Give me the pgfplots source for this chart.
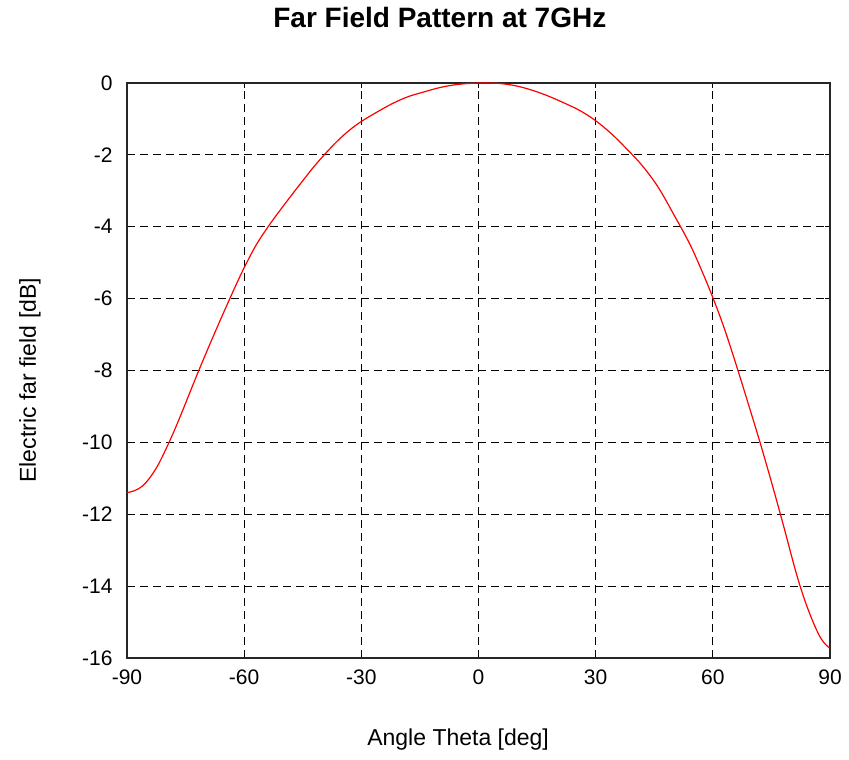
\documentclass[border=0pt]{standalone}
\usepackage{fontspec}
\setmainfont{Liberation Sans}
\usepackage{pgfplots}
\pgfplotsset{compat=1.18}
\begin{document}
\begin{tikzpicture}
\begin{axis}[
  name=ax,
  scale only axis,
  width=703pt, height=575pt,
  xmin=-90, xmax=90, ymin=-16, ymax=0,
  xtick={-90,-60,-30,0,30,60,90},
  xticklabels={-90,-60,-30,0,30,60,90},
  ytick={-16,-14,-12,-10,-8,-6,-4,-2,0},
  yticklabels={-16,-14,-12,-10,-8,-6,-4,-2,0},
  tick align=inside,
  major tick length=5pt,
  tick style={black, line width=1pt},
  ticklabel style={font=\fontsize{21}{25}\selectfont},
  xticklabel style={yshift=-8pt},
  yticklabel style={xshift=-11pt},
  grid=major,
  major grid style={black, line width=1.2pt, dash pattern=on 8pt off 5pt},
  axis line style={black!85, line width=1.5pt},
  title={\bfseries Far Field Pattern at 7GHz},
  title style={font=\fontsize{28}{32}\selectfont, at={(axis description cs:0.445,1.104)}, anchor=center},
  xlabel={Angle Theta [deg]},
  ylabel={Electric far field [dB]},
  label style={font=\fontsize{23}{27}\selectfont},
  xlabel style={at={(axis description cs:0.471,-0.1426)}, anchor=center},
  ylabel style={at={(axis description cs:-0.138,0.483)}, anchor=center},
]
\addplot[red, line width=1.2pt, smooth, tension=0.6] coordinates {
(-90,-11.40) (-88,-11.34) (-86,-11.21) (-84,-10.96) (-82,-10.62) (-80,-10.18)
(-78,-9.70) (-76,-9.18) (-74,-8.64) (-72,-8.10) (-70,-7.58) (-68,-7.07)
(-66,-6.57) (-64,-6.08) (-62,-5.60) (-60,-5.14) (-57,-4.52) (-54,-4.02)
(-51,-3.57) (-48,-3.14) (-45,-2.72) (-42,-2.31) (-39,-1.94) (-36,-1.60)
(-33,-1.31) (-30,-1.07) (-26,-0.81) (-22,-0.57) (-18,-0.38) (-14,-0.25)
(-10,-0.13) (-6,-0.05) (-2,-0.01) (2,0) (6,-0.02) (10,-0.09) (14,-0.21)
(18,-0.37) (22,-0.56) (26,-0.77) (30,-1.05) (34,-1.41) (38,-1.84)
(42,-2.31) (46,-2.90) (50,-3.66) (54,-4.46) (57,-5.18) (60,-5.97)
(63,-6.85) (66,-7.85) (69,-8.90) (72,-9.97) (75,-11.10) (78,-12.28)
(81,-13.50) (83,-14.22) (85,-14.82) (87,-15.32) (88.5,-15.58) (90,-15.73)
};
\end{axis}
\path ([shift={(-127pt,-101pt)}]ax.south west) rectangle ([shift={(19pt,83pt)}]ax.north east);
\end{tikzpicture}
\end{document}
